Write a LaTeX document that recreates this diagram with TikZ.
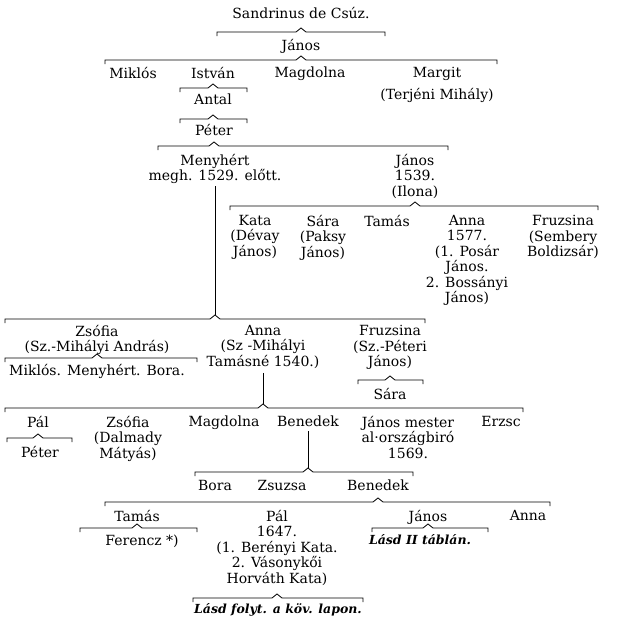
\documentclass[tikz,border=0pt]{standalone}
\usepackage{fontspec}
\setmainfont{DejaVu Serif}
\usepackage{tikz}
\usetikzlibrary{calc}
\newcommand{\tabfont}{\fontsize{14pt}{15.5pt}\selectfont}
\newcommand{\notefont}{\fontsize{12.5pt}{14pt}\selectfont\bfseries\itshape}
\tikzset{
  pers/.style={anchor=north, inner sep=0pt, align=center, font=\tabfont},
  note/.style={pers, font=\notefont},
  kinline/.style={line width=0.8pt, color=black}
}
% family bracket: parent node, left x, right x, height
\newcommand{\famline}[4]{%
  \coordinate (#1-l) at (#2,#4);
  \coordinate (#1-r) at (#3,#4);
  \draw[kinline] ($(#1-l)+(0,4)$) -- (#1-l)
    -- ($(#1-l -| #1)+(-5,0)$) -- ($(#1-l -| #1)+(0,-4)$)
    -- ($(#1-l -| #1)+(5,0)$) -- (#1-r) -- ($(#1-r)+(0,4)$);
}

\begin{document}
\begin{tikzpicture}[x=1pt, y=-1pt]
  \useasboundingbox[fill=white] (0,0) rectangle (622,624);

  \node[pers] (sandr) at (301,7) {Sandrinus de Csúz.};
  \famline{sandr}{217}{385}{32}
  \node[pers] (janos1) at (301,39) {János};
  \famline{janos1}{105}{497}{60}
  \node[pers] (miklos1) at (133,67) {Miklós};
  \node[pers] (istvan) at (213,67) {István};
  \node[pers] (magdolna1) at (310,67) {Magdolna};
  \node[pers] (margit) at (437,67) {Margit\\[6pt](Terjéni Mihály)};
  \famline{istvan}{180}{247}{88}
  \node[pers] (antal) at (213,94) {Antal};
  \famline{antal}{180}{247}{119}
  \node[pers] (peter1) at (214,124) {Péter};
  \famline{peter1}{158}{448}{146}
  \node[pers] (menyhert) at (215,154) {Menyhért\\megh. 1529. előtt.};
  \node[pers] (janos2) at (415,154) {János\\1539.\\(Ilona)};
  \famline{janos2}{230}{598}{206}
  \node[pers] (kata) at (255,215) {Kata\\(Dévay\\János)};
  \node[pers] (sara1) at (323,215) {Sára\\(Paksy\\János)};
  \node[pers] (tamas1) at (387,215) {Tamás};
  \node[pers] (anna1) at (467,215) {Anna\\1577.\\(1. Posár\\János.\\2. Bossányi\\János)};
  \node[pers] (fruzsina1) at (563,215) {Fruzsina\\(Sembery\\Boldizsár)};

  \famline{menyhert}{5}{425}{319}
  \draw[kinline, shorten <=2pt] (menyhert.south) -- ($(menyhert-l -| menyhert)+(0,-4)$);
  \node[pers] (zsofia1) at (97,325) {Zsófia\\(Sz.-Mihályi András)};
  \node[pers] (anna2) at (263,325) {Anna\\(Sz -Mihályi\\Tamásné 1540.)};
  \node[pers] (fruzsina2) at (390,325) {Fruzsina\\(Sz.-Péteri\\János)};
  \famline{zsofia1}{5}{197}{358}
  \node[pers] (zsgy) at (97,364) {Miklós. Menyhért. Bora.};
  \famline{fruzsina2}{358}{423}{380}
  \node[pers] (sara2) at (390,388) {Sára};

  \famline{anna2}{5}{523}{408}
  \draw[kinline, shorten <=4pt] (anna2.south) -- ($(anna2-l -| anna2)+(0,-4)$);
  \node[pers] (pal1) at (38,416) {Pál};
  \node[pers] (zsofia2) at (128,416) {Zsófia\\(Dalmady\\Mátyás)};
  \node[pers] (magdolna2) at (224,416) {Magdolna};
  \node[pers] (benedek1) at (308,416) {Benedek};
  \node[pers] (janos3) at (408,416) {János mester\\al·országbiró\\1569.};
  \node[pers] (erzsc) at (501,416) {Erzsc};
  \famline{pal1}{7}{72}{438}
  \node[pers] (peter2) at (40,446) {Péter};

  \famline{benedek1}{195}{413}{472}
  \draw[kinline, shorten <=4pt] (benedek1.south) -- ($(benedek1-l -| benedek1)+(0,-4)$);
  \node[pers] (bora) at (215,480) {Bora};
  \node[pers] (zsuzsa) at (282,480) {Zsuzsa};
  \node[pers] (benedek2) at (378,480) {Benedek};
  \famline{benedek2}{105}{550}{502}
  \node[pers] (tamas2) at (137,510) {Tamás};
  \node[pers] (pal2) at (277,510) {Pál\\1647.\\(1. Berényi Kata.\\2. Vásonykői\\Horváth Kata)};
  \node[pers] (janos4) at (428,510) {János};
  \node[pers] (anna3) at (528,510) {Anna};
  \famline{tamas2}{80}{197}{528}
  \node[pers] (ferencz) at (142,535) {Ferencz *)};
  \famline{janos4}{372}{488}{528}
  \node[note] (lasd1) at (420,534) {Lásd II táblán.};
  \famline{pal2}{193}{363}{598}
  \node[note] (lasd2) at (278,603) {Lásd folyt. a köv. lapon.};
\end{tikzpicture}
\end{document}
